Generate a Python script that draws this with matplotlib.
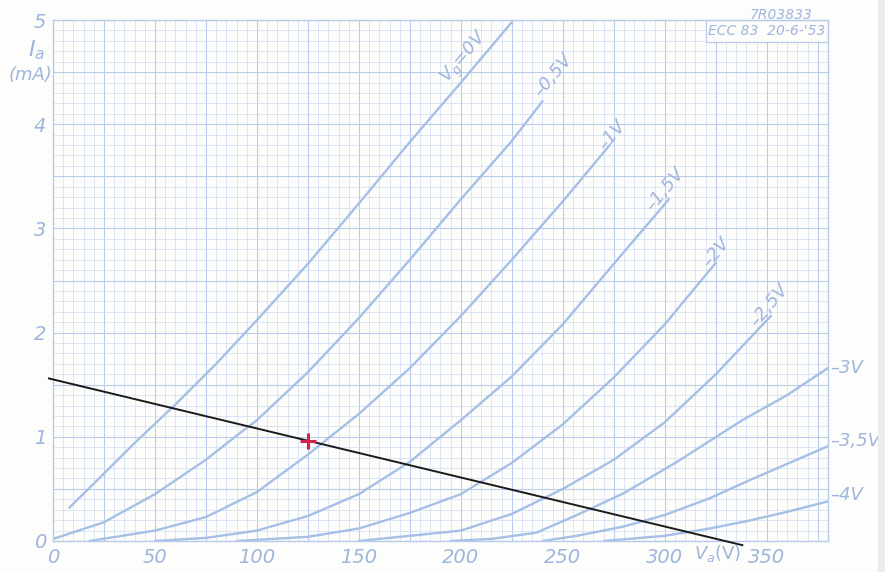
import numpy as np
import matplotlib.pyplot as plt
from matplotlib.patches import Rectangle

# ---- ECC83 anode characteristics (Va in V, Ia in mA) ----
va_g0 = [8, 20, 40, 60, 80, 100, 125, 150, 175, 200, 225]
ia_g0 = [0.32, 0.55, 0.94, 1.31, 1.70, 2.12, 2.66, 3.24, 3.83, 4.40, 4.98]

va_g05 = [0, 25, 50, 75, 88, 100, 125, 150, 175, 200, 225, 240]
ia_g05 = [0.02, 0.18, 0.45, 0.78, 0.98, 1.16, 1.62, 2.14, 2.70, 3.28, 3.84, 4.22]

va_g1 = [18, 50, 75, 100, 125, 150, 175, 200, 225, 250, 273]
ia_g1 = [0.0, 0.10, 0.23, 0.47, 0.83, 1.22, 1.66, 2.16, 2.70, 3.26, 3.80]

va_g15 = [50, 75, 100, 125, 150, 175, 200, 225, 250, 275, 302]
ia_g15 = [0.0, 0.03, 0.10, 0.24, 0.45, 0.76, 1.16, 1.58, 2.08, 2.66, 3.28]

va_g2 = [90, 125, 150, 175, 200, 225, 250, 275, 300, 325]
ia_g2 = [0.0, 0.04, 0.12, 0.27, 0.45, 0.75, 1.12, 1.57, 2.08, 2.67]

va_g25 = [150, 200, 225, 250, 275, 300, 325, 352]
ia_g25 = [0.0, 0.10, 0.26, 0.50, 0.78, 1.14, 1.60, 2.16]

va_g3 = [195, 215, 237, 257, 280, 306, 338, 360, 380]
ia_g3 = [0.0, 0.02, 0.08, 0.25, 0.46, 0.76, 1.16, 1.40, 1.66]

va_g35 = [240, 257, 280, 300, 322, 340, 360, 380]
ia_g35 = [0.0, 0.05, 0.14, 0.25, 0.41, 0.57, 0.74, 0.91]

va_g4 = [270, 300, 322, 340, 360, 380]
ia_g4 = [0.0, 0.05, 0.12, 0.19, 0.28, 0.38]

# load line and operating point drawn over the sheet
load_va = [-2, 338]
load_ia = [1.56, -0.04]
op_va = 125
op_ia = 0.955

x_ticks = [0, 50, 100, 150, 200, 250, 300, 350]
y_ticks = [0, 1, 2, 3, 4, 5]

curves = [(va_g0, ia_g0), (va_g05, ia_g05), (va_g1, ia_g1), (va_g15, ia_g15),
          (va_g2, ia_g2), (va_g25, ia_g25), (va_g3, ia_g3), (va_g35, ia_g35),
          (va_g4, ia_g4)]

BLUE = "#a6bfe6"
GRID = "#d0ddf2"
GRID2 = "#b9cbea"
TXT = "#9fb5dd"

fig = plt.figure(figsize=(8.85, 5.72), dpi=100, facecolor="#fdfdfb")
ax = fig.add_axes([53 / 885, 1 - 541 / 572, 775 / 885, 521 / 572])
ax.set_facecolor("#fdfdfb")
ax.set_xlim(0, 380)
ax.set_ylim(0, 5)

# graph paper: 5 V / 0.1 mA cells, slightly heavier every 25 V / 0.5 mA
for v in np.arange(0, 381, 5):
    strong = v % 25 == 0
    ax.axvline(v, color=GRID2 if strong else GRID, lw=0.75 if strong else 0.5, zorder=0)
for i in np.arange(0, 5.01, 0.1):
    strong = round(i * 10) % 5 == 0
    ax.axhline(i, color=GRID2 if strong else GRID, lw=0.75 if strong else 0.5, zorder=0)

for s in ax.spines.values():
    s.set_color(GRID2)
    s.set_linewidth(1.0)

for va, ia in curves:
    ax.plot(va, ia, color=BLUE, lw=1.7, solid_capstyle="round", zorder=2)

ax.plot(load_va, load_ia, color="#1a1a1a", lw=1.4, zorder=3, clip_on=False)
ax.plot([op_va], [op_ia], marker="+", markersize=11, mew=2.2, color="#d2224f", zorder=4)

ax.set_xticks(x_ticks)
ax.set_yticks(y_ticks)
ax.tick_params(length=0, colors=TXT, labelsize=14, pad=5)
for lab in ax.get_xticklabels() + ax.get_yticklabels():
    lab.set_fontstyle("italic")

tkw = dict(color=TXT, fontstyle="italic", fontsize=13)
ax.text(-8, 4.71, r"$I_a$", ha="center", va="center", fontsize=16, color=TXT, clip_on=False)
ax.text(-11, 4.47, "(mA)", ha="center", va="center", clip_on=False, **tkw)
ax.text(326, -0.12, r"$V_a$(V)", ha="center", va="center", fontsize=13, color=TXT, clip_on=False)

# grid-voltage labels along the curves
ax.text(202, 4.64, r"$V_g$=0V", rotation=50, ha="center", va="center", **tkw)
ax.text(245, 4.47, "–0,5V", rotation=50, ha="center", va="center", **tkw)
ax.text(274, 3.89, "–1V", rotation=50, ha="center", va="center", **tkw)
ax.text(300, 3.38, "–1,5V", rotation=50, ha="center", va="center", **tkw)
ax.text(325, 2.77, "–2V", rotation=50, ha="center", va="center", **tkw)
ax.text(351, 2.26, "–2,5V", rotation=50, ha="center", va="center", **tkw)
ax.text(381, 1.66, "–3V", ha="left", va="center", clip_on=False, **tkw)
ax.text(381, 0.96, "–3,5V", ha="left", va="center", clip_on=False, **tkw)
ax.text(381, 0.44, "–4V", ha="left", va="center", clip_on=False, **tkw)

# title block in the corner
ax.add_patch(Rectangle((320, 4.79), 60, 0.21, facecolor="#fdfdfb", edgecolor=GRID2, lw=0.9, zorder=1))
ax.text(350, 4.895, "ECC 83  20-6-'53", ha="center", va="center", color=TXT,
        fontstyle="italic", fontsize=10, zorder=2)
ax.text(357, 5.05, "7R03833", ha="center", va="center", color=TXT,
        fontstyle="italic", fontsize=10, clip_on=False)

# scanner edge on the right
fig.patches.append(Rectangle((0.992, 0), 0.008, 1, transform=fig.transFigure,
                             facecolor="#ececec", edgecolor="none"))

fig.savefig("out.png", dpi=100, facecolor=fig.get_facecolor())
